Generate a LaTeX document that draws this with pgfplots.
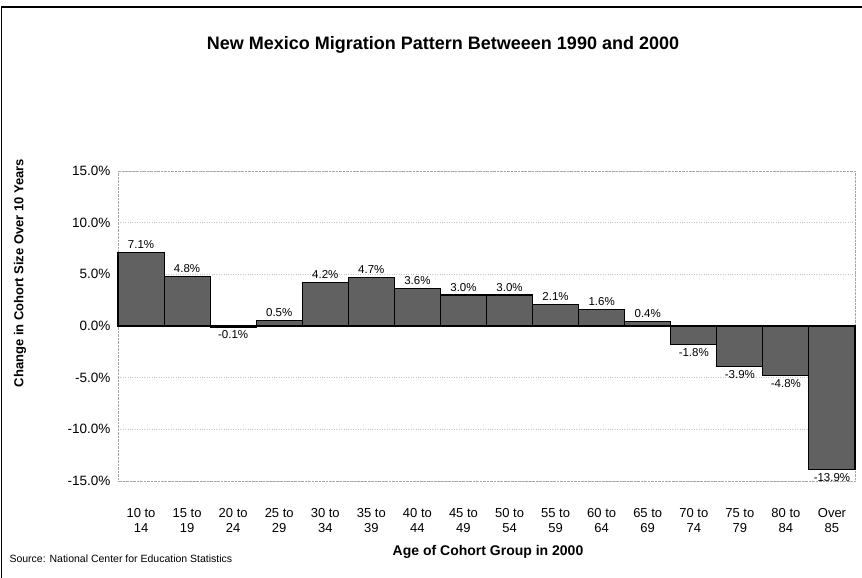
\documentclass[border=0pt]{standalone}
\usepackage{fontspec}
\setmainfont{Liberation Sans}
\usepackage{pgfplots}
\pgfplotsset{compat=1.18}

\begin{document}
\begin{tikzpicture}
\path[use as bounding box] (0pt,0pt) rectangle (862pt,578pt);
% outer chart frame
\draw[line width=1.4pt] (1.5pt,0pt) -- (1.5pt,571pt) -- (862pt,571pt);

\node[font=\bfseries\fontsize{18}{21}\selectfont] at (443pt,533pt)
  {New Mexico Migration Pattern Betweeen 1990 and 2000};

\begin{axis}[
    at={(118pt,97pt)}, anchor=south west,
    width=737pt, height=310pt, scale only axis,
    xmin=-0.5, xmax=15.5,
    ymin=-15, ymax=15,
    ybar, bar width=1, bar shift=0pt,
    xtick=data,
    xticklabels={{\strut 10 to\\\strut 14},{\strut 15 to\\\strut 19},{\strut 20 to\\\strut 24},
      {\strut 25 to\\\strut 29},{\strut 30 to\\\strut 34},{\strut 35 to\\\strut 39},
      {\strut 40 to\\\strut 44},{\strut 45 to\\\strut 49},{\strut 50 to\\\strut 54},
      {\strut 55 to\\\strut 59},{\strut 60 to\\\strut 64},{\strut 65 to\\\strut 69},
      {\strut 70 to\\\strut 74},{\strut 75 to\\\strut 79},{\strut 80 to\\\strut 84},
      {\strut Over\\\strut 85}},
    x tick label style={align=center, font=\fontsize{13}{15}\selectfont,
      anchor=north, inner sep=0pt, yshift=-26pt},
    ytick={-15,-10,-5,0,5,10,15},
    yticklabel={\pgfmathprintnumber[fixed,fixed zerofill,precision=1]{\tick}\%},
    y tick label style={font=\fontsize{13.5}{16}\selectfont, xshift=-4pt},
    /pgf/number format/assume math mode=true,
    major tick length=0pt,
    axis line style={gray!70, densely dotted},
    ymajorgrids=true,
    grid style={gray!45, dotted},
    nodes near coords={\pgfmathprintnumber[fixed,fixed zerofill,precision=1]{\pgfplotspointmeta}\%},
    nodes near coords style={font=\fontsize{11.5}{13}\selectfont},
    clip=false,
]
\addplot[fill=black!62, draw=black, line width=1.1pt] coordinates {
    (0,7.1) (1,4.8) (2,-0.1) (3,0.5) (4,4.2) (5,4.7) (6,3.6) (7,3.0)
    (8,3.0) (9,2.1) (10,1.6) (11,0.4) (12,-1.8) (13,-3.9) (14,-4.8) (15,-13.9)
};
\draw[black, line width=1.1pt] (axis cs:-0.5,0) -- (axis cs:15.5,0);
\end{axis}

\node[rotate=90, font=\bfseries\fontsize{13}{15}\selectfont] at (20pt,305pt)
  {Change in Cohort Size Over 10 Years};
\node[font=\bfseries\fontsize{14}{16}\selectfont] at (488pt,26pt)
  {Age of Cohort Group in 2000};
\node[anchor=west, font=\fontsize{10.5}{12}\selectfont] at (6pt,19pt)
  {Source: National Center for Education Statistics};
\end{tikzpicture}
\end{document}
